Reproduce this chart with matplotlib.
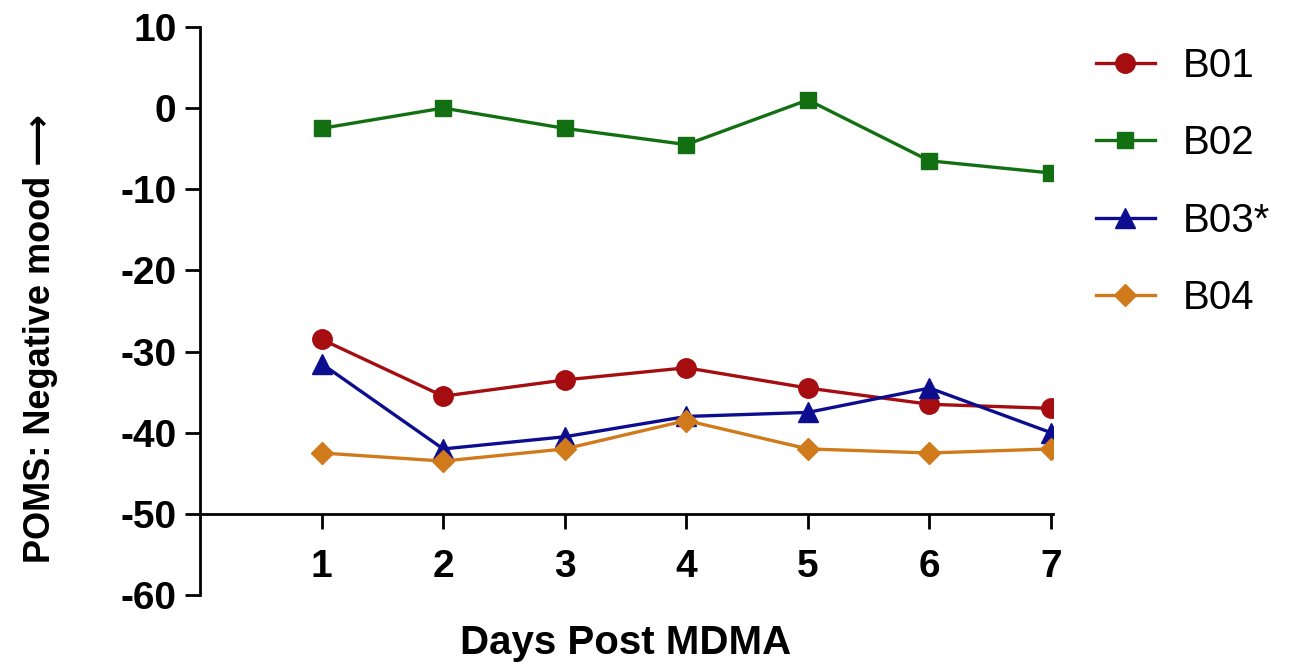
import matplotlib.pyplot as plt
import numpy as np

plt.rcParams['font.family'] = ['Liberation Sans', 'DejaVu Sans']
plt.rcParams['axes.unicode_minus'] = False

## data
days = [1, 2, 3, 4, 5, 6, 7]
b01 = [-28.5, -35.5, -33.5, -32, -34.5, -36.5, -37]
b02 = [-2.5, 0, -2.5, -4.5, 1, -6.5, -8]
b03 = [-31.5, -42, -40.5, -38, -37.5, -34.5, -40]
b04 = [-42.5, -43.5, -42, -38.5, -42, -42.5, -42]

fig = plt.figure(figsize=(12.99, 6.66), dpi=100)
ax = fig.add_axes([0.154, 0.1066, 0.657, 0.853])

ax.plot(days, b01, color='#A50D10', marker='o', ms=14, lw=2.4, label='B01')
ax.plot(days, b02, color='#127012', marker='s', ms=12, lw=2.4, label='B02')
ax.plot(days, b03, color='#0D0D8F', marker='^', ms=14, lw=2.4, label='B03*')
ax.plot(days, b04, color='#D07A1C', marker='D', ms=11, lw=2.4, label='B04')

ax.set_xlim(0, 7.02)
ax.set_ylim(-60, 10)
ax.set_yticks(np.arange(-60, 11, 10))
ax.set_xticks(days)

ax.spines['top'].set_visible(False)
ax.spines['right'].set_visible(False)
ax.spines['bottom'].set_position(('data', -50))
ax.spines['left'].set_linewidth(2)
ax.spines['bottom'].set_linewidth(2)
ax.tick_params(width=2, length=11, labelsize=28)
ax.tick_params(axis='x', pad=14)
ax.tick_params(axis='y', pad=6)
for lab in ax.get_xticklabels() + ax.get_yticklabels():
    lab.set_fontweight('bold')

fig.text(0.031, 0.492, 'POMS: Negative mood ⟶', fontsize=26, fontweight='bold',
         rotation=90, ha='center', va='center')
fig.text(0.482, 0.035, 'Days Post MDMA', fontsize=29, fontweight='bold', ha='center', va='center')

ax.legend(loc='upper left', bbox_to_anchor=(0.816, 0.984), bbox_transform=fig.transFigure,
          frameon=False, fontsize=29, labelspacing=0.98, handlelength=1.45, handletextpad=0.7)

plt.savefig('out.png', dpi=100)
